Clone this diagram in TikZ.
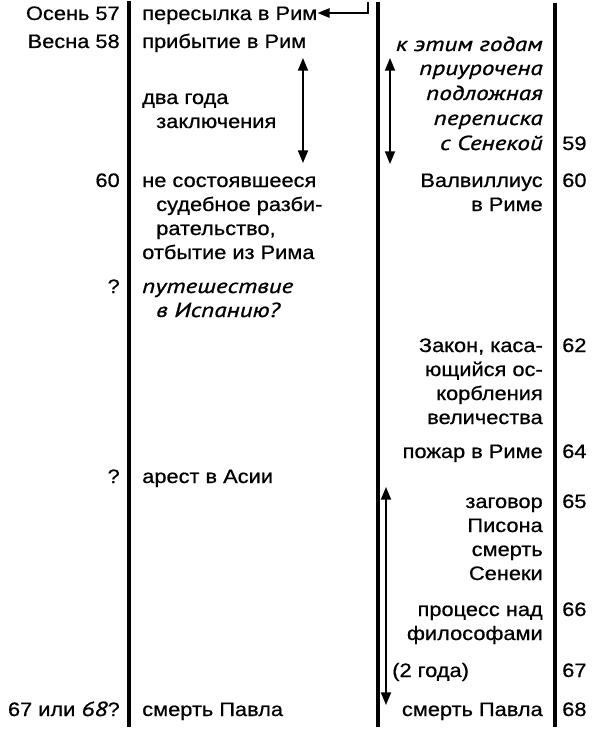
\documentclass[tikz,border=0pt]{standalone}
\usepackage{fontspec}
\setmainfont{Liberation Sans}[FakeStretch=1.12,FakeBold=0.7]
\newfontfamily\ptit{PT Sans}[FakeStretch=1.24,FakeBold=1.1]
\usetikzlibrary{arrows.meta}
\begin{document}
\begin{tikzpicture}[x=0.75pt,y=-0.75pt,
  txt/.style={inner sep=0pt, font=\fontsize{14.6pt}{17pt}\selectfont},
  lt/.style={txt, anchor=base east},
  ml/.style={txt, anchor=base west},
  rt/.style={txt, anchor=base east},
  num/.style={txt, anchor=base west},
  itx/.style={font=\fontsize{15.2pt}{17pt}\ptit\itshape},
  rulel/.style={line width=2.5pt},
  tipa/.style={line width=1.4pt, -{Triangle[length=9pt,width=7pt]}},
  tipd/.style={line width=1.4pt, {Triangle[length=9.5pt,width=7.5pt]}-{Triangle[length=9.5pt,width=7.5pt]}}
]
\useasboundingbox (0,0) rectangle (593,731);
% vertical rules
\coordinate (l1t) at (129,1);   \coordinate (l1b) at (129,727);
\coordinate (l2t) at (378,2);   \coordinate (l2b) at (378,727);
\coordinate (l3t) at (555,3);   \coordinate (l3b) at (555,727);
\draw[rulel] (l1t) -- (l1b);
\draw[rulel] (l2t) -- (l2b);
\draw[rulel] (l3t) -- (l3b);
% left column
\node[lt] (a1) at (120,20) {Осень 57};
\node[lt] (a2) at (120,48) {Весна 58};
\node[lt] (a3) at (120,187) {60};
\node[lt] (a4) at (120,293) {?};
\node[lt] (a5) at (120,483) {?};
\node[lt] (a6) at (120,716) {67 или {\fontsize{15.2pt}{17pt}\ptit\itshape 68}?};
% middle column
\node[ml] (m1) at (142,20) {пересылка в Рим};
\node[ml] (m2) at (142,48) {прибытие в Рим};
\node[ml] (m3) at (142,104) {два года};
\node[ml] (m4) at (156,128) {заключения};
\node[ml] (m5) at (142,187) {не состоявшееся};
\node[ml] (m6) at (156,211) {судебное разби-};
\node[ml] (m7) at (156,235) {рательство,};
\node[ml] (m8) at (142,259) {отбытие из Рима};
\node[ml,itx] (m9) at (142,293) {путешествие};
\node[ml,itx] (m10) at (156,317) {в Испанию?};
\node[ml] (m11) at (142,483) {арест в Асии};
\node[ml] (m12) at (142,716) {смерть Павла};
% right column
\node[rt,itx] (r1) at (543,51) {к этим годам};
\node[rt,itx] (r2) at (543,75) {приурочена};
\node[rt,itx] (r3) at (543,100) {подложная};
\node[rt,itx] (r4) at (543,125) {переписка};
\node[rt,itx] (r5) at (543,150) {с Сенекой};
\node[rt] (r6) at (543,187) {Валвиллиус};
\node[rt] (r7) at (543,211) {в Риме};
\node[rt] (r8) at (543,352) {Закон, каса-};
\node[rt] (r9) at (543,376) {ющийся ос-};
\node[rt] (r10) at (543,400) {корбления};
\node[rt] (r11) at (543,424) {величества};
\node[rt] (r12) at (543,458) {пожар в Риме};
\node[rt] (r13) at (543,508) {заговор};
\node[rt] (r14) at (543,532) {Писона};
\node[rt] (r15) at (543,556) {смерть};
\node[rt] (r16) at (543,580) {Сенеки};
\node[rt] (r17) at (543,616) {процесс над};
\node[rt] (r18) at (543,640) {философами};
\node[ml] (r19) at (392,677) {(2 года)};
\node[rt] (r20) at (543,716) {смерть Павла};
% right numbers
\node[num] (n1) at (562,150) {59};
\node[num] (n2) at (562,187) {60};
\node[num] (n3) at (562,352) {62};
\node[num] (n4) at (562,458) {64};
\node[num] (n5) at (562,508) {65};
\node[num] (n6) at (562,616) {66};
\node[num] (n7) at (562,677) {67};
\node[num] (n8) at (562,716) {68};
% arrows
\coordinate (t0) at (368,2);
\coordinate (t1) at (368,13);
\draw[tipa] (t0) -- (t1) -- (t1 -| m1.east);
\coordinate (d1a) at (303,58);  \coordinate (d1b) at (303,163);
\draw[tipd] (d1a) -- (d1b);
\coordinate (d2a) at (390,58);  \coordinate (d2b) at (390,164);
\draw[tipd] (d2a) -- (d2b);
\coordinate (d3a) at (386,487); \coordinate (d3b) at (386,705);
\draw[tipd] (d3a) -- (d3b);
\end{tikzpicture}
\end{document}
